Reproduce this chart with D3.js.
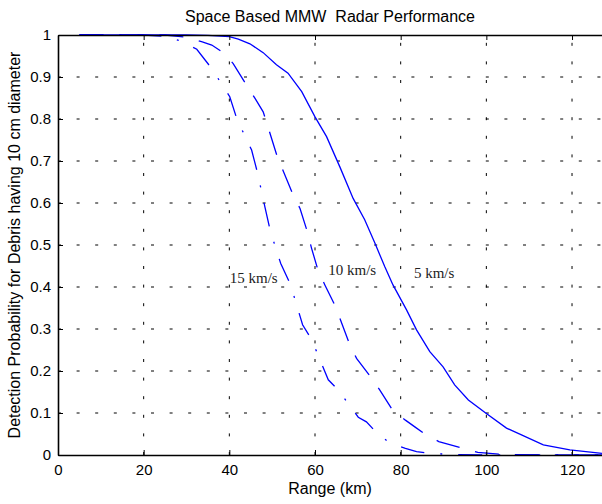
<!DOCTYPE html>
<html>
<head>
<meta charset="utf-8">
<script src="https://cdn.jsdelivr.net/npm/d3@7"></script>
<style>
  body { margin: 0; background: #fff; }
  svg { display: block; }
</style>
</head>
<body>
<div id="chart"></div>
<script>
// curve data: [range km, detection probability]
const speed5 = [[5,1],[30,1],[35,0.999],[40,0.996],[42.1,0.99],[44.8,0.979],[47.9,0.958],[51,0.929],[53.7,0.909],[56.9,0.865],[60,0.805],[62.7,0.758],[65.8,0.686],[68.9,0.611],[71.6,0.56],[74,0.504],[76.3,0.448],[78.2,0.405],[81.4,0.345],[83.7,0.298],[86.8,0.246],[89.9,0.21],[92.6,0.167],[95.8,0.131],[100,0.099],[104.7,0.064],[108.2,0.048],[113.3,0.024],[119.5,0.012],[127,0.004]];
const speed10 = [[5,1],[25,1],[30,0.995],[33.5,0.984],[35.9,0.976],[38.6,0.958],[40.9,0.932],[44,0.881],[46,0.849],[47.9,0.817],[48.5,0.798],[51.2,0.71],[54.9,0.619],[56.5,0.587],[58.2,0.532],[59.2,0.492],[60.7,0.44],[62.3,0.405],[64.8,0.353],[68,0.266],[69.7,0.23],[73,0.186],[75.1,0.155],[78.1,0.107],[81.1,0.083],[83.3,0.067],[85.6,0.05],[88.9,0.032],[93.8,0.018],[98,0.006],[103,0.002],[110,0],[127,0]];
const speed15 = [[5,1],[20,1],[25,0.997],[28.5,0.986],[32.4,0.966],[35.9,0.92],[40.1,0.853],[41.8,0.799],[45.2,0.726],[46.6,0.671],[48.3,0.591],[49.6,0.532],[52,0.456],[54.3,0.405],[57.1,0.31],[59.2,0.275],[63.1,0.179],[65.4,0.155],[70.1,0.09],[72,0.079],[74.4,0.053],[77.5,0.028],[81.1,0.016],[83.7,0.008],[86.8,0.004],[92,0.001],[100,0],[127,0]];

const xTicks = [0, 20, 40, 60, 80, 100, 120];
const yTicks = [0, 0.1, 0.2, 0.3, 0.4, 0.5, 0.6, 0.7, 0.8, 0.9, 1];

// curve labels: [text, x km, y prob]
const curveLabels = [["15 km/s", 40.1, 0.41], ["10 km/s", 63.1, 0.428], ["5 km/s", 83.1, 0.422]];

const width = 602, height = 504;
const margin = { top: 35, right: 0, bottom: 49, left: 58 };

const x = d3.scaleLinear().domain([0, 127]).range([margin.left, width - margin.right]);
const y = d3.scaleLinear().domain([0, 1]).range([height - margin.bottom, margin.top]);

const svg = d3.select("#chart").append("svg")
  .attr("width", width)
  .attr("height", height)
  .attr("font-family", "Liberation Sans, Arial, sans-serif");

// grid (MATLAB style dotted)
const grid = svg.append("g")
  .attr("stroke", "#000")
  .attr("stroke-width", 1)
  .attr("stroke-dasharray", "3,15.6");

grid.selectAll("line.gx")
  .data(xTicks.slice(1))
  .join("line")
  .attr("class", "gx")
  .attr("x1", d => x(d)).attr("x2", d => x(d))
  .attr("y1", y(0)).attr("y2", y(1));

grid.selectAll("line.gy")
  .data(yTicks.slice(1, -1))
  .join("line")
  .attr("class", "gy")
  .attr("y1", d => y(d)).attr("y2", d => y(d))
  .attr("x1", x(0)).attr("x2", width);

// curves
const line = d3.line().x(d => x(d[0])).y(d => y(d[1]));
const series = [
  { data: speed5, dash: null },
  { data: speed10, dash: "24,16" },
  { data: speed15, dash: "24,16,2,16" }
];

svg.append("g")
  .attr("fill", "none")
  .attr("stroke", "#0000ff")
  .attr("stroke-width", 1.3)
  .selectAll("path")
  .data(series)
  .join("path")
  .attr("stroke-dasharray", d => d.dash)
  .attr("d", d => line(d.data));

// axes
const xAxis = d3.axisBottom(x).tickValues(xTicks).tickSizeInner(-5).tickSizeOuter(0).tickPadding(9);
const yAxis = d3.axisLeft(y).tickValues(yTicks).tickSizeInner(-5).tickSizeOuter(0).tickPadding(7)
  .tickFormat(d => d === 0 || d === 1 ? d3.format("d")(d) : d3.format(".1f")(d));

const gx = svg.append("g")
  .attr("transform", `translate(0,${y(0)})`)
  .call(xAxis);
const gy = svg.append("g")
  .attr("transform", `translate(${x(0)},0)`)
  .call(yAxis);

// top edge of the box
svg.append("g")
  .attr("transform", `translate(0,${y(1)})`)
  .call(d3.axisTop(x).tickValues(xTicks).tickSizeInner(-5).tickSizeOuter(0).tickFormat(""));

[gx, gy].forEach(g => {
  g.selectAll("text").attr("font-size", 15).attr("fill", "#000").attr("font-family", "Liberation Sans, Arial, sans-serif");
});
svg.selectAll(".domain").attr("stroke", "#000").attr("stroke-width", 1.6);
svg.selectAll(".tick line").attr("stroke", "#000");

// title and axis labels
svg.append("text")
  .attr("x", (x(0) + width) / 2)
  .attr("y", 22)
  .attr("text-anchor", "middle")
  .attr("font-size", 16)
  .style("white-space", "pre")
  .text("Space Based MMW  Radar Performance");

svg.append("text")
  .attr("x", (x(0) + width) / 2)
  .attr("y", 494)
  .attr("text-anchor", "middle")
  .attr("font-size", 16)
  .text("Range (km)");

svg.append("text")
  .attr("transform", `translate(20,${(y(0) + y(1)) / 2}) rotate(-90)`)
  .attr("text-anchor", "middle")
  .attr("font-size", 16)
  .text("Detection Probability for Debris having 10 cm diameter");

// curve labels
svg.append("g")
  .attr("font-family", "Liberation Serif, Times New Roman, serif")
  .attr("font-size", 15)
  .attr("fill", "#222")
  .selectAll("text")
  .data(curveLabels)
  .join("text")
  .attr("x", d => x(d[1]))
  .attr("y", d => y(d[2]))
  .text(d => d[0]);
</script>
</body>
</html>
